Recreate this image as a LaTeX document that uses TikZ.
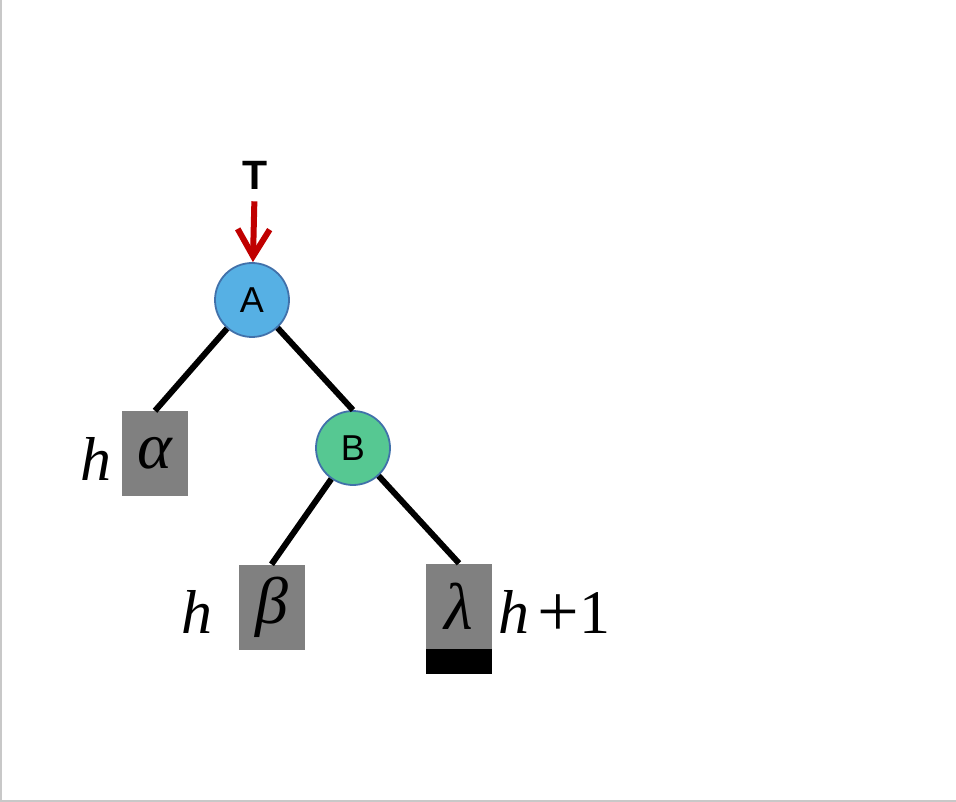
\documentclass[tikz,border=0pt]{standalone}
\usepackage{fontspec}
\setmainfont{Liberation Serif}
\setsansfont{Liberation Sans}
\usetikzlibrary{arrows.meta}
\definecolor{fillA}{RGB}{86,176,228}
\definecolor{fillB}{RGB}{86,200,146}
\definecolor{circstroke}{RGB}{65,113,170}
\definecolor{boxgray}{RGB}{128,128,128}
\definecolor{arrowred}{RGB}{192,0,0}
\definecolor{framegray}{RGB}{200,200,200}
\tikzset{
  treenode/.style={circle, draw=circstroke, line width=1.8pt, minimum size=74pt, inner sep=0pt,
    font=\sffamily\fontsize{36}{36}\selectfont},
  subtree/.style={rectangle, fill=boxgray, minimum width=66pt, minimum height=85pt, inner sep=0pt,
    font=\fontsize{66}{66}\selectfont\itshape},
  heightbar/.style={rectangle, fill=black, minimum width=66pt, minimum height=25pt, inner sep=0pt},
  hlabel/.style={inner sep=0pt, font=\fontsize{62}{62}\selectfont},
  edge/.style={line width=6pt, black},
  pointer/.style={line width=6pt, arrowred, -{Straight Barb[length=27pt,width=32pt]}}
}
\begin{document}
\begin{tikzpicture}[x=1pt,y=-1pt]
\useasboundingbox (0,0) rectangle (956,802);
\draw[framegray, line width=1.5pt] (0.75,0) -- (0.75,801) -- (956,801);

\node[inner sep=0pt, font=\sffamily\bfseries\fontsize{41}{41}\selectfont] (T) at (255,175) {T};
\node[treenode, fill=fillA] (A) at (252,300) {A};
\node[treenode, fill=fillB] (B) at (353,448) {B};

\node[subtree] (alpha) at (155,453.5) {α};
\node[subtree] (beta) at (271.5,607) {β};
\node[subtree] (lambda) at (459,606) {λ};
\node[heightbar, anchor=north] (lbar) at (lambda.south) {};

\node[hlabel, anchor=base] (ha) at (96,480) {\itshape h};
\node[hlabel, anchor=base] (hb) at (197,633) {\itshape h};
\node[hlabel, anchor=base west] (hl) at (498,633) {{\itshape h}\hspace{8pt}\raisebox{-3pt}{\fontsize{74}{74}\selectfont +}\hspace{1pt}1};

\draw[pointer, shorten <=12pt] (T) -- (A);
\draw[edge] (A) -- (alpha.north);
\draw[edge] (A) -- (B.north);
\draw[edge] (B) -- (beta.north);
\draw[edge] (B) -- (lambda.north);
\end{tikzpicture}
\end{document}
